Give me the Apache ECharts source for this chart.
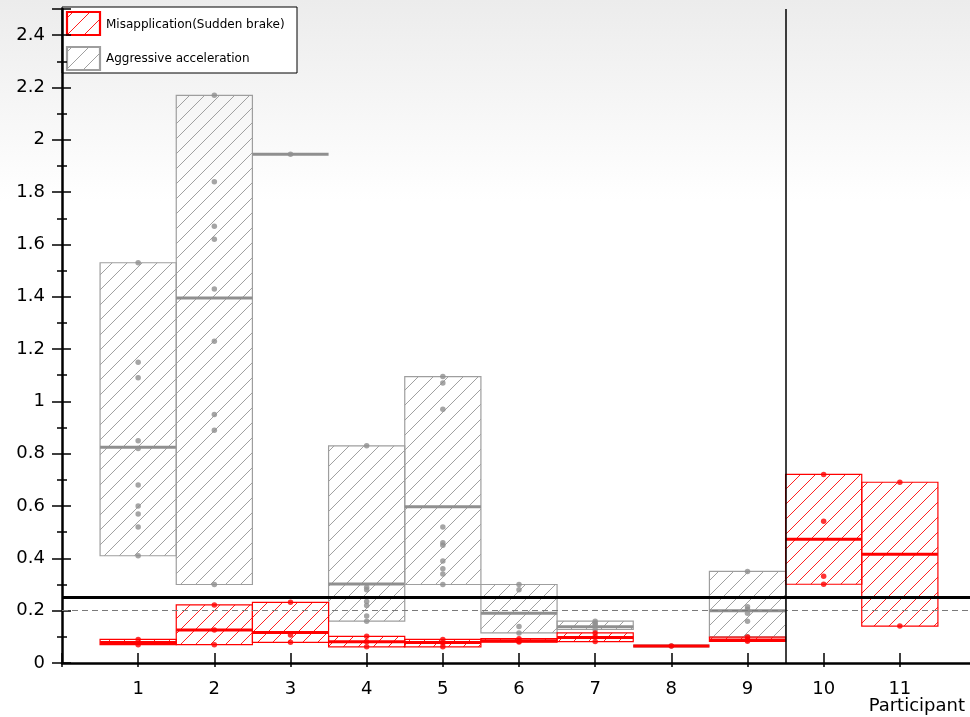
<!DOCTYPE html>
<html><head><meta charset="utf-8">
<script src="https://cdn.jsdelivr.net/npm/echarts@6/dist/echarts.min.js"></script>
<style>html,body{margin:0;padding:0;background:#fff}#c{width:970px;height:717px}</style>
</head><body><div id="c"></div>
<script>
// ---- data ----
const participants = [1, 2, 3, 4, 5, 6, 7, 8, 9, 10, 11];
const yAxisMin = 0, yAxisMax = 2.5, yAxisStep = 0.2;
const xAxisMax = 12;

// Aggressive acceleration (grey), participants 1..9
const aggressiveParticipants = [1, 2, 3, 4, 5, 6, 7, 8, 9];
const aggressivePoints = [
  [1.53, 1.15, 1.09, 0.85, 0.82, 0.68, 0.60, 0.57, 0.52, 0.41],
  [2.17, 1.84, 1.67, 1.62, 1.43, 1.23, 0.95, 0.89, 0.30],
  [1.945],
  [0.83, 0.29, 0.28, 0.235, 0.22, 0.18, 0.16],
  [1.095, 1.07, 0.97, 0.52, 0.46, 0.45, 0.39, 0.36, 0.34, 0.30],
  [0.30, 0.28, 0.14, 0.115],
  [0.16, 0.152, 0.145, 0.128],
  [0.065],
  [0.35, 0.215, 0.205, 0.19, 0.16, 0.10]
];
const aggressiveMedian = [0.825, 1.395, 1.945, 0.302, 0.597, 0.19, 0.139, 0.065, 0.20];

// Misapplication (sudden brake) (red), participants 1..11
const misapplicationParticipants = [1, 2, 3, 4, 5, 6, 7, 8, 9, 10, 11];
const misapplicationPoints = [
  [0.09, 0.07],
  [0.222, 0.126, 0.07],
  [0.232, 0.107, 0.079],
  [0.102, 0.081, 0.062],
  [0.09, 0.076, 0.062],
  [0.093, 0.083, 0.08],
  [0.115, 0.10, 0.082],
  [0.065],
  [0.099, 0.088, 0.083],
  [0.721, 0.542, 0.332, 0.301],
  [0.691, 0.141]
];
const misapplicationMedian = [0.078, 0.126, 0.117, 0.081, 0.078, 0.085, 0.097, 0.065, 0.088, 0.473, 0.416];

const thresholdValue = 0.25;
const referenceValue = 0.2;
const splitParticipant = 9.5;

const legendNames = ['Misapplication(Sudden brake)', 'Aggressive acceleration'];
const xAxisTitle = 'Participant';

// ---- styling ----
const RED = '#ff0000', RED_HATCH = '#ff2020';
const GREY = '#9e9e9e', GREY_HATCH = '#a0a0a0', GREY_MED = '#8f8f8f', GREY_PT = '#8f8f8f';
const FONT = 'DejaVu Sans';
const HATCH_STEP = 15;

function boxData(xs, pts, meds) {
  return xs.map((x, i) => [x, Math.min(...pts[i]), Math.max(...pts[i]), meds[i]]);
}
function pointData(xs, pts) {
  const out = [];
  xs.forEach((x, i) => pts[i].forEach(v => out.push([x, v])));
  return out;
}
function hatchLines(x0, y0, x1, y1, s, stroke, lw) {
  const res = [];
  const cStart = Math.ceil((x0 + y0) / s) * s;
  for (let c = cStart; c <= x1 + y1; c += s) {
    const xa = Math.max(x0, c - y1), xb = Math.min(x1, c - y0);
    if (xb - xa < 0.5) continue;
    res.push({type: 'line', silent: true, shape: {x1: xa, y1: c - xa, x2: xb, y2: c - xb},
      style: {stroke: stroke, lineWidth: lw}});
  }
  return res;
}
function boxRenderer(stroke, hatch, medColor) {
  return function (params, api) {
    const x = api.value(0), lo = api.value(1), hi = api.value(2), med = api.value(3);
    const tl = api.coord([x - 0.5, hi]), br = api.coord([x + 0.5, lo]), m = api.coord([x, med]);
    const x0 = tl[0], y0 = tl[1], x1 = br[0], y1 = br[1];
    let children = [];
    if (y1 - y0 > 0.5) {
      children = children.concat(hatchLines(x0, y0, x1, y1, HATCH_STEP, hatch, 1));
      children.push({type: 'rect', shape: {x: x0, y: y0, width: x1 - x0, height: y1 - y0},
        style: {fill: 'rgba(0,0,0,0)', stroke: stroke, lineWidth: 1.2}});
    }
    children.push({type: 'line', shape: {x1: x0, y1: m[1], x2: x1, y2: m[1]},
      style: {stroke: medColor, lineWidth: 3}});
    return {type: 'group', children: children};
  };
}

const chart = echarts.init(document.getElementById('c'), null, {renderer: 'canvas'});

const yLabelFmt = v => {
  const r = Math.round(v / yAxisStep);
  if (Math.abs(v / yAxisStep - r) > 1e-6) return '';
  return String(Math.round(v * 10) / 10);
};
const xLabelFmt = v => (Math.abs(v - Math.round(v)) < 1e-6 && v >= 1 && v <= participants.length) ? String(Math.round(v)) : '';

function legendIcon(y, stroke, hatch) {
  const x0 = 67, w = 33, h = 23;
  return [
    {type: 'rect', shape: {x: x0, y: y, width: w, height: h}, style: {fill: '#fff', stroke: stroke, lineWidth: 2.2}},
  ].concat(hatchLines(x0 + 1, y + 1, x0 + w - 1, y + h - 1, 17, hatch, 1));
}

const option = {
  animation: false,
  backgroundColor: new echarts.graphic.LinearGradient(0, 0, 0, 1, [
    {offset: 0, color: '#ececec'}, {offset: 0.28, color: '#ffffff'}, {offset: 1, color: '#ffffff'}
  ]),
  grid: {left: 62, right: -6, top: 9, bottom: 54, containLabel: false, outerBoundsMode: 'none'},
  xAxis: [
    {type: 'value', min: 0, max: xAxisMax, interval: 1, position: 'bottom',
      axisLine: {show: true, onZero: false, lineStyle: {color: '#000', width: 2.5}},
      axisTick: {show: true, inside: true, length: 10, lineStyle: {color: '#000', width: 1.5}},
      axisLabel: {show: true, margin: 17, formatter: xLabelFmt, color: '#000', fontFamily: FONT, fontSize: 18},
      splitLine: {show: false}},
    {type: 'value', min: 0, max: xAxisMax, interval: 1, position: 'bottom',
      axisLine: {show: false, onZero: false},
      axisTick: {show: true, inside: false, length: 4, lineStyle: {color: '#000', width: 1.5}},
      axisLabel: {show: false}, splitLine: {show: false}}
  ],
  yAxis: [
    {type: 'value', min: yAxisMin, max: yAxisMax, interval: yAxisStep, position: 'left',
      axisLine: {show: true, onZero: false, lineStyle: {color: '#000', width: 2.5}},
      axisTick: {show: true, inside: false, length: 10, lineStyle: {color: '#000', width: 1.5}},
      minorTick: {show: true, splitNumber: 2, length: 5, lineStyle: {color: '#000', width: 1.5}},
      axisLabel: {show: true, margin: 17, formatter: yLabelFmt, color: '#000', fontFamily: FONT, fontSize: 18},
      splitLine: {show: false}, minorSplitLine: {show: false}},
    {type: 'value', min: yAxisMin, max: yAxisMax, interval: yAxisStep, position: 'left',
      axisLine: {show: false, onZero: false},
      axisTick: {show: true, inside: true, length: 9, lineStyle: {color: '#000', width: 1.5}},
      minorTick: {show: true, splitNumber: 2, length: 5, lineStyle: {color: '#000', width: 1.5}},
      axisLabel: {show: false}, splitLine: {show: false}}
  ],
  series: [
    {type: 'custom', name: legendNames[1], z: 2, renderItem: boxRenderer(GREY, GREY_HATCH, GREY_MED),
      encode: {x: 0, y: [1, 2, 3]}, data: boxData(aggressiveParticipants, aggressivePoints, aggressiveMedian)},
    {type: 'scatter', name: legendNames[1] + ' points', z: 3, symbol: 'circle', symbolSize: 5.5,
      itemStyle: {color: GREY_PT}, data: pointData(aggressiveParticipants, aggressivePoints)},
    {type: 'custom', name: legendNames[0], z: 4, renderItem: boxRenderer(RED, RED_HATCH, RED),
      encode: {x: 0, y: [1, 2, 3]}, data: boxData(misapplicationParticipants, misapplicationPoints, misapplicationMedian)},
    {type: 'scatter', name: legendNames[0] + ' points', z: 5, symbol: 'circle', symbolSize: 5.5,
      itemStyle: {color: RED}, data: pointData(misapplicationParticipants, misapplicationPoints)},
    {type: 'line', name: 'reference', z: 6, data: [], silent: true,
      markLine: {silent: true, symbol: ['none', 'none'], label: {show: false},
        data: [
          {yAxis: referenceValue, lineStyle: {color: '#7a7a7a', width: 1.2, type: [6, 4]}},
          {yAxis: thresholdValue, lineStyle: {color: '#000', width: 3, type: 'solid'}},
          {xAxis: splitParticipant, lineStyle: {color: '#000', width: 1.5, type: 'solid'}}
        ]}}
  ],
  graphic: [
    {type: 'group', z: 100, children: [
      {type: 'rect', shape: {x: 62, y: 7, width: 235, height: 66}, style: {fill: '#fff', stroke: '#000', lineWidth: 1}},
    ].concat(legendIcon(12, RED, RED_HATCH)).concat(legendIcon(47, GREY, GREY_HATCH)).concat([
      {type: 'text', style: {x: 106, y: 25, text: legendNames[0], fill: '#000', font: '12px "' + FONT + '"', verticalAlign: 'middle', textAlign: 'left'}},
      {type: 'text', style: {x: 106, y: 59, text: legendNames[1], fill: '#000', font: '12px "' + FONT + '"', verticalAlign: 'middle', textAlign: 'left'}}
    ])},
    {type: 'text', z: 100, style: {x: 965, y: 706, text: xAxisTitle, fill: '#000', font: '18px "' + FONT + '"', textAlign: 'right', verticalAlign: 'middle'}}
  ]
};
chart.setOption(option);
</script></body></html>
